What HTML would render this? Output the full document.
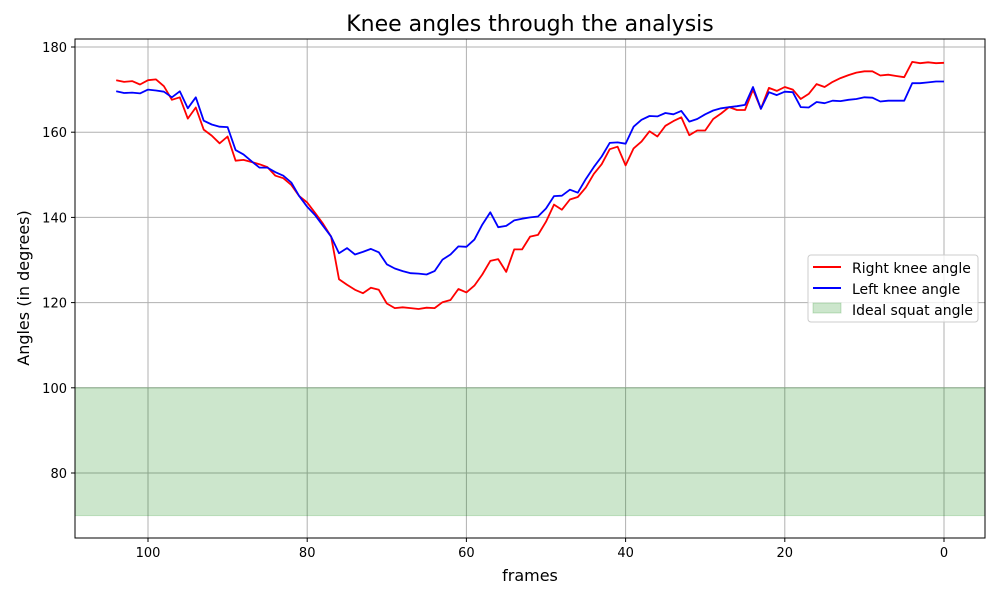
<!DOCTYPE html>
<html><head><meta charset="utf-8"><style>
body{margin:0;background:#fff;font-family:"Liberation Sans","DejaVu Sans",sans-serif}
svg text{font-family:"DejaVu Sans","Liberation Sans",sans-serif}
</style></head><body>
<svg id="chart" width="1000" height="600" xmlns="http://www.w3.org/2000/svg">
<rect width="1000" height="600" fill="#fff"/>
<g id="grid"></g>
<g id="band"></g>
<g id="lines"></g>
<rect x="75" y="39" width="910" height="499" fill="none" stroke="#000" stroke-width="1"/>
<g id="ticks"></g>
<text x="530" y="31" text-anchor="middle" font-size="22">Knee angles through the analysis</text>
<text x="530" y="581" text-anchor="middle" font-size="16">frames</text>
<text x="29" y="288" text-anchor="middle" font-size="16" transform="rotate(-90 29 288)">Angles (in degrees)</text>
<g>
<rect x="808" y="255" width="170" height="67" rx="3" fill="#fff" fill-opacity="0.8" stroke="#ccc"/>
<g><line x1="813" y1="267" x2="841" y2="267" stroke="#f00" stroke-width="2"/><text x="852" y="273" font-size="14">Right knee angle</text></g>
<g><line x1="813" y1="288" x2="841" y2="288" stroke="#00f" stroke-width="2"/><text x="852" y="294" font-size="14">Left knee angle</text></g>
<g><rect x="813" y="303" width="28" height="10" fill="green" fill-opacity="0.2" stroke="green" stroke-opacity="0.2"/><text x="852" y="315" font-size="14">Ideal squat angle</text></g>
</g>
</svg>
<script>
const frames=[];for(let f=104;f>=0;f--)frames.push(f);
const rightKnee=[172.2,171.8,172,171.2,172.2,172.4,170.8,167.6,168.2,163.2,165.8,160.6,159.2,157.4,159,153.3,153.5,153,152.5,151.8,149.8,149.2,147.6,145,143.5,141,138.5,135.5,125.5,124.2,123,122.2,123.5,123,119.8,118.7,118.9,118.7,118.5,118.8,118.7,120.1,120.6,123.2,122.4,124,126.6,129.8,130.2,127.2,132.5,132.5,135.5,135.9,139,143,141.8,144.2,144.8,147,150.2,152.5,156,156.6,152.2,156.2,157.8,160.2,159,161.5,162.6,163.5,159.3,160.4,160.4,163.1,164.4,165.9,165.2,165.2,170,165.5,170.4,169.7,170.6,170,167.8,169,171.3,170.6,171.8,172.7,173.4,174,174.3,174.3,173.3,173.5,173.2,172.9,176.5,176.2,176.4,176.2,176.3];
const leftKnee=[169.6,169.2,169.3,169.1,170,169.8,169.5,168.2,169.6,165.6,168.2,162.7,161.8,161.3,161.2,155.8,154.8,153.2,151.7,151.7,150.6,149.8,148.2,145,142.5,140.5,138,135.5,131.6,132.8,131.3,131.9,132.6,131.8,129,128,127.4,126.9,126.8,126.6,127.4,130.1,131.3,133.2,133.1,134.8,138.3,141.2,137.7,138,139.3,139.7,140,140.2,142.1,145,145.1,146.5,145.8,149,151.8,154.3,157.5,157.6,157.3,161.3,162.9,163.8,163.7,164.5,164.2,165,162.5,163.1,164.2,165.1,165.6,165.9,166.1,166.4,170.6,165.5,169.4,168.7,169.5,169.4,165.9,165.8,167.1,166.8,167.4,167.3,167.6,167.8,168.2,168.1,167.2,167.4,167.4,167.4,171.5,171.5,171.7,171.9,171.9];
const idealBand=[70,100];
const xTicks=[100,80,60,40,20,0];
const yTicks=[80,100,120,140,160,180];
const X=f=>944-(944-148)/100*f;
const Y=v=>473-(473-47)/100*(v-80);
const NS="http://www.w3.org/2000/svg";
function mk(tag,attrs,parent){const e=document.createElementNS(NS,tag);for(const k in attrs)e.setAttribute(k,attrs[k]);parent.appendChild(e);return e;}
const grid=document.getElementById('grid'),ticks=document.getElementById('ticks'),band=document.getElementById('band'),lines=document.getElementById('lines');
xTicks.forEach(t=>{
 const g=mk('line',{x1:X(t),x2:X(t),y1:39,y2:538,stroke:'#b0b0b0','stroke-width':1},grid);
 
 
 mk('line',{x1:X(t),x2:X(t),y1:538,y2:542,stroke:'#000'},ticks);
 const tx=mk('text',{x:X(t),y:557,'text-anchor':'middle','font-size':13},ticks);tx.textContent=t;
 
 
});
yTicks.forEach(t=>{
 const g=mk('line',{x1:75,x2:985,y1:Y(t),y2:Y(t),stroke:'#b0b0b0','stroke-width':1},grid);
 
 
 mk('line',{x1:71,x2:75,y1:Y(t),y2:Y(t),stroke:'#000'},ticks);
 const tx=mk('text',{x:67,y:Y(t)+5,'text-anchor':'end','font-size':13},ticks);tx.textContent=t;
 
 
});
const b=mk('rect',{x:75,y:Y(idealBand[1]),width:910,height:Y(idealBand[0])-Y(idealBand[1]),fill:'green','fill-opacity':0.2,stroke:'green','stroke-opacity':0.2},band);


function line(vals,color,name){
 const p=mk('polyline',{points:vals.map((v,i)=>X(frames[i]).toFixed(1)+','+Y(v).toFixed(1)).join(' '),fill:'none',stroke:color,'stroke-width':1.8,'stroke-linejoin':'round'},lines);
 
 
}
line(rightKnee,'#f00','right-knee-line');
line(leftKnee,'#00f','left-knee-line');
</script>
</body></html>
